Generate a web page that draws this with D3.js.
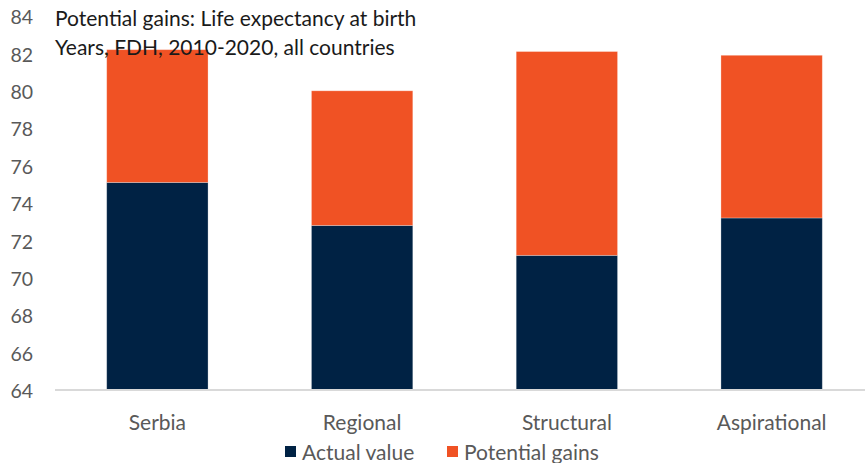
<!DOCTYPE html>
<html><head><meta charset="utf-8">
<script src="https://cdn.jsdelivr.net/npm/d3@7"></script>
<style>body{margin:0;background:#fff}svg{display:block}</style>
</head><body>
<svg id="c" width="865" height="463"></svg>
<script>
const categories = ["Serbia", "Regional", "Structural", "Aspirational"];
const actualValue = [75.1, 72.8, 71.2, 73.2];
const potentialGains = [7.1, 7.2, 10.9, 8.7];
const yTicks = [64, 66, 68, 70, 72, 74, 76, 78, 80, 82, 84];
const seriesNames = ["Actual value", "Potential gains"];
const titleLines = ["Potential gains: Life expectancy at birth", "Years, FDH, 2010-2020, all countries"];

const colors = ["#002244", "#F05224"];
const font = "Lato, 'Open Sans', sans-serif";
const svg = d3.select("#c");
const x = d3.scaleBand().domain(categories).range([55, 874]).paddingInner(0.505).paddingOuter(0.2525);
const y = d3.scaleLinear().domain([64, 84]).range([390, 16]);

const rows = categories.map((c, i) => ({cat: c, "Actual value": actualValue[i], "Potential gains": potentialGains[i]}));
const st = d3.stack().keys(seriesNames)(rows);

const g = svg.append("g");
st.forEach((s, si) => {
  g.selectAll(null).data(s).enter().append("rect")
    .attr("x", d => x(d.data.cat))
    .attr("width", x.bandwidth())
    .attr("y", d => y(Math.min(84, d[1])))
    .attr("height", d => y(Math.max(64, d[0])) - y(Math.min(84, d[1])))
    .attr("fill", colors[si])
    .attr("stroke", "#fff").attr("stroke-opacity", 0.35).attr("stroke-width", 0.8);
});

// y axis
const ya = svg.append("g").attr("transform", "translate(33,1.5)")
  .call(d3.axisLeft(y).tickValues(yTicks).tickSize(0).tickPadding(0));
ya.select(".domain").remove();
ya.selectAll("text").attr("font-family", font).attr("font-size", 19.5).attr("fill", "#595959");

// x axis
const xa = svg.append("g").attr("transform", "translate(0,390)")
  .call(d3.axisBottom(x).tickSize(0).tickPadding(25));
xa.select(".domain").attr("stroke", "#D9D9D9").attr("stroke-width", 2).attr("d", "M55,0H865");
xa.selectAll("text").attr("font-family", font).attr("font-size", 21).attr("fill", "#595959");

// title
svg.selectAll(".title").data(titleLines).enter().append("text")
  .attr("x", 55).attr("y", (d, i) => 26 + i * 29)
  .attr("font-family", font).attr("font-size", 21).attr("fill", "#1a1a1a").text(d => d);

// legend
const lx = [285, 447];
const lg = svg.selectAll(".lg").data(seriesNames).enter().append("g")
  .attr("transform", (d, i) => `translate(${lx[i]},0)`);
lg.append("rect").attr("x", 0).attr("y", 446).attr("width", 11).attr("height", 11).attr("fill", (d, i) => colors[i]);
lg.append("text").attr("x", 17).attr("y", 460).attr("font-family", font).attr("font-size", 21)
  .attr("fill", "#595959").text(d => d);
</script>
</body></html>
